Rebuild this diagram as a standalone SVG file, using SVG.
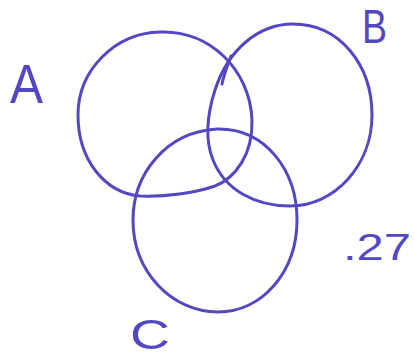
<svg xmlns="http://www.w3.org/2000/svg" width="414" height="360" viewBox="0 0 414 360">
<style>
.c{fill:none;stroke:#5447c2;stroke-width:3;stroke-linecap:round;stroke-linejoin:round}
.t{fill:#5447c2;font-family:"Liberation Sans",Arial,sans-serif}
</style>
<rect width="414" height="360" fill="#ffffff"/>
<g id="A">
<path class="c" d="M160,32 C210,30 250,70 252,120 C253,155 235,178 215,186 C195,193 165,197 140,196 C105,193 78,160 78,115 C78,70 115,33 160,32 Z"/>
<path class="c" d="M231,56 C228,64 224,74 222,84"/>
<text class="t" x="10" y="103" font-size="56" textLength="33" lengthAdjust="spacingAndGlyphs">A</text>
</g>
<g id="B">
<path class="c" d="M293,24 C340,24 372,65 372,115 C372,165 335,206 290,206 C255,206 225,190 213,160 C205,140 207,115 215,90 C228,50 258,24 293,24 Z"/>
<text class="t" x="362" y="43" font-size="48" textLength="25" lengthAdjust="spacingAndGlyphs">B</text>
</g>
<g id="C">
<path class="c" d="M217,129 C265,128 297,170 297,220 C297,272 262,312 218,312 C172,312 133,272 133,220 C133,175 165,132 217,129 Z"/>
<text class="t" x="130" y="349" font-size="42" textLength="40" lengthAdjust="spacingAndGlyphs">C</text>
</g>
<g id="label27">
<text class="t" x="343" y="260" font-size="36" textLength="68" lengthAdjust="spacingAndGlyphs">.27</text>
</g>
<g id="connectors"></g>
</svg>
